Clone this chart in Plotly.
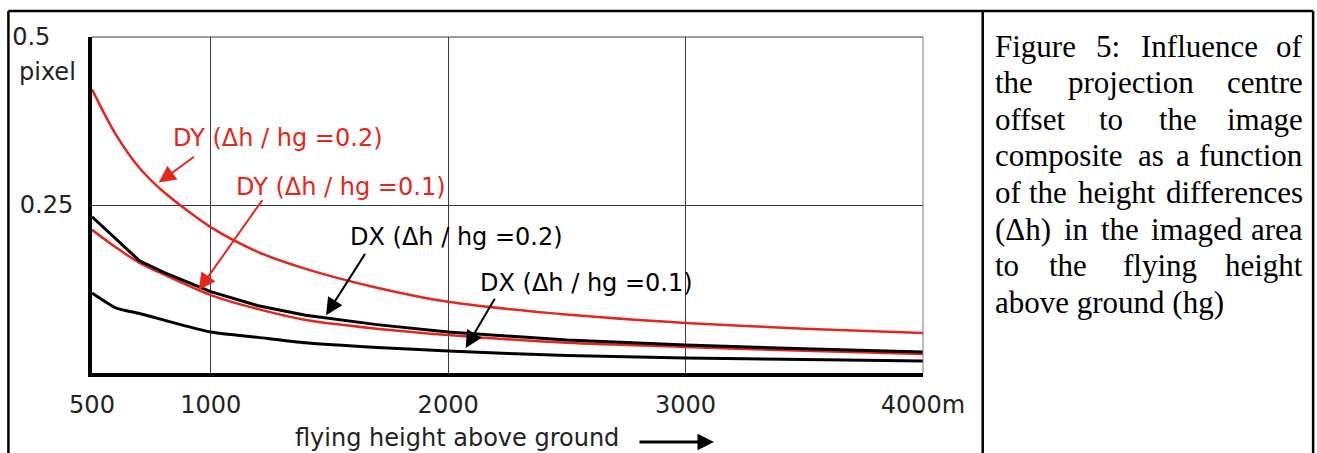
import plotly.graph_objects as go

# ---------------- data ----------------
height_m = [500, 600, 700, 800, 1000, 1200, 1400, 1700, 2000, 2500, 3000, 3500, 4000]
dy_02 = [0.422, 0.355, 0.305, 0.270, 0.217, 0.180, 0.155, 0.127, 0.106, 0.087, 0.0745, 0.066, 0.0596]
dy_01 = [0.213, 0.187, 0.164, 0.147, 0.116, 0.095, 0.079, 0.066, 0.0566, 0.045, 0.0387, 0.033, 0.0283]
dx_02 = [0.2325, 0.199, 0.167, 0.150, 0.121, 0.100, 0.086, 0.072, 0.061, 0.049, 0.0417, 0.036, 0.0313]
dx_01 = [0.119, 0.097, 0.0885, 0.079, 0.061, 0.053, 0.045, 0.038, 0.0328, 0.026, 0.0224, 0.020, 0.0179]

x_tickvals = [500, 1000, 2000, 3000, 4000]
x_ticktext = ["500", "1000", "2000", "3000", "4000m"]
y_tickvals = [0.25, 0.5]
y_ticktext = ["0.25", "0.5\u00a0\u00a0\u00a0"]

series_names = ["DY (\u0394h / hg =0.2)", "DY (\u0394h / hg =0.1)",
                "DX (\u0394h / hg =0.2)", "DX (\u0394h / hg =0.1)"]
y_unit = "pixel"
x_title = "flying height above ground"

caption_lines = [
    ["Figure", "5:", "Influence", "of"],
    ["the", "projection", "centre"],
    ["offset", "to", "the", "image"],
    ["composite", "as", "a", "function"],
    ["of", "the", "height", "differences"],
    ["(\u0394h)", "in", "the", "imaged", "area"],
    ["to", "the", "flying", "height"],
    ["above ground (hg)"],
]

# ---------------- styling / layout ----------------
RED = "#e4261c"
W, H = 1317, 453
L, R_, T, B = 88, 923, 37, 373


def px(x):
    return (x - L) / (R_ - L)


def py(y):
    return (B - y) / (B - T)


fig = go.Figure()
fig.add_trace(go.Scatter(x=height_m, y=dy_02, mode="lines", line=dict(color=RED, width=2.5, shape="spline", smoothing=0.8), name=series_names[0]))
fig.add_trace(go.Scatter(x=height_m, y=dy_01, mode="lines", line=dict(color=RED, width=2.5, shape="spline", smoothing=0.8), name=series_names[1]))
fig.add_trace(go.Scatter(x=height_m, y=dx_02, mode="lines", line=dict(color="black", width=3), name=series_names[2]))
fig.add_trace(go.Scatter(x=height_m, y=dx_01, mode="lines", line=dict(color="black", width=3, shape="spline", smoothing=0.6), name=series_names[3]))

tickfont = dict(family="DejaVu Sans", size=24, color="#222222")

fig.update_layout(
    width=W, height=H,
    margin=dict(l=L, r=W - R_, t=T, b=H - B),
    paper_bgcolor="white", plot_bgcolor="white",
    showlegend=False,
    xaxis=dict(range=[500, 4000], tickvals=x_tickvals, ticktext=x_ticktext,
               showgrid=True, gridcolor="#3a3a3a", gridwidth=1,
               showline=True, linecolor="black", linewidth=4,
               zeroline=False, ticks="", tickfont=tickfont, ticklabelstandoff=7),
    yaxis=dict(range=[0, 0.5], tickvals=y_tickvals, ticktext=y_ticktext,
               showgrid=True, gridcolor="#3a3a3a", gridwidth=1,
               showline=True, linecolor="black", linewidth=4,
               zeroline=False, ticks="", tickfont=tickfont, ticklabelstandoff=10),
)

ann = []
lab_font = dict(family="DejaVu Sans", size=24)
# series labels (data coords)
label_pos = [(832, 0.350, RED), (1096, 0.2774, RED), (1579, 0.2018, "black"), (2124, 0.1335, "black")]
for name, (lx, ly, c) in zip(series_names, label_pos):
    ann.append(dict(x=lx, y=ly, xref="x", yref="y", text=name, showarrow=False,
                    xanchor="left", yanchor="middle", font=dict(lab_font, color=c)))
# arrows: (head x, head y, tail x, tail y, color)
arrows = [(781, 0.2834, 936, 0.3234, RED), (949, 0.1231, 1222, 0.2596, RED),
          (1486, 0.0861, 1654, 0.1795, "black"), (2074, 0.0371, 2200, 0.1128, "black")]
for hx, hy, tx, ty, c in arrows:
    ann.append(dict(x=hx, y=hy, xref="x", yref="y", ax=tx, ay=ty, axref="x", ayref="y",
                    text="", showarrow=True, arrowhead=2, arrowsize=1.7, arrowwidth=2,
                    arrowcolor=c, standoff=0))

# y unit
ann.append(dict(x=px(13), y=py(72), xref="paper", yref="paper", text=y_unit, showarrow=False,
                xanchor="left", yanchor="middle", font=tickfont))
# x title + arrow
ann.append(dict(x=px(290), y=py(438), xref="paper", yref="paper", text=x_title, showarrow=False,
                xanchor="left", yanchor="middle", font=dict(family="DejaVu Sans", size=24, color="#222222")))
ann.append(dict(x=px(713), y=py(442), xref="paper", yref="paper", ax=-76, ay=0,
                text="", showarrow=True, arrowhead=2, arrowsize=1.1, arrowwidth=3,
                arrowcolor="black", standoff=0))

# caption (justified by placing words)
word_left = [
    [993, 1095, 1140, None],
    [993, 1067, None],
    [993, 1098, 1158, None],
    [993, 1137, 1175, None],
    [993, 1028, 1077, None],
    [993, 1063, 1100, 1150, None],
    [993, 1048, 1122, None],
    [993],
]
cap_font = dict(family="Liberation Serif", size=31, color="black")
for i, (words, lefts) in enumerate(zip(caption_lines, word_left)):
    base = 57 + 36.6 * i
    for w, lx in zip(words, lefts):
        if lx is None:
            ann.append(dict(x=px(1307), y=py(base - 11), xref="paper", yref="paper", text=w,
                            showarrow=False, xanchor="right", yanchor="middle", font=cap_font))
        else:
            ann.append(dict(x=px(lx), y=py(base - 11), xref="paper", yref="paper", text=w,
                            showarrow=False, xanchor="left", yanchor="middle", font=cap_font))

fig.update_layout(annotations=ann)

# table border + thin plot frame (top and right)
shapes = []
for (x0, y0, x1, y1) in [(4, 11, 1315, 11), (4, 11, 4, 470), (983, 11, 983, 470), (1315, 11, 1315, 470)]:
    shapes.append(dict(type="line", xref="paper", yref="paper", x0=px(x0), y0=py(y0), x1=px(x1), y1=py(y1),
                       line=dict(color="black", width=2.5)))
shapes.append(dict(type="line", xref="paper", yref="paper", x0=0, y0=1, x1=1, y1=1,
                   line=dict(color="#3a3a3a", width=1)))
shapes.append(dict(type="line", xref="paper", yref="paper", x0=1, y0=0, x1=1, y1=1,
                   line=dict(color="#7a7a7a", width=1)))
fig.update_layout(shapes=shapes)

fig.write_html("out.html", config={"displayModeBar": False},
               post_script="document.body.style.margin='0px';document.body.style.padding='0px';")
